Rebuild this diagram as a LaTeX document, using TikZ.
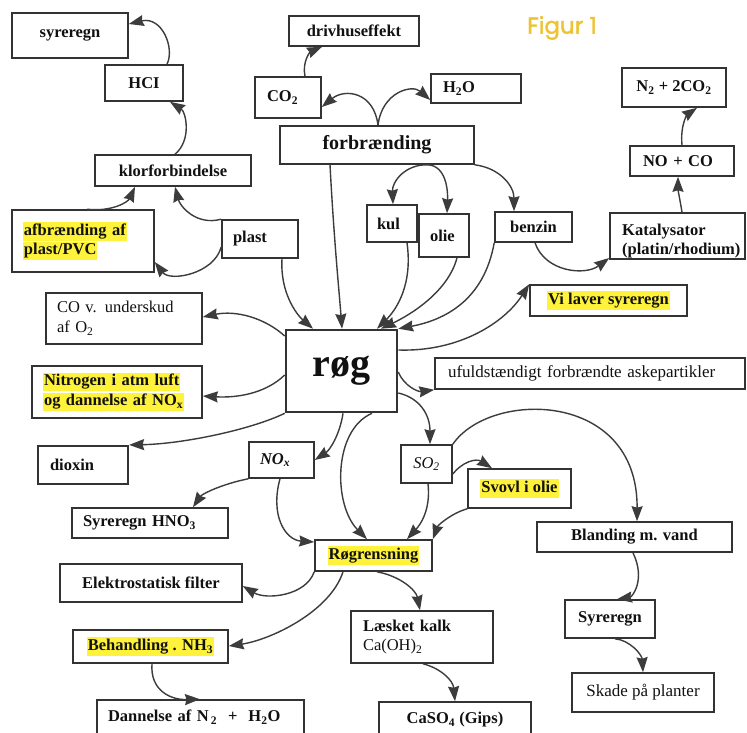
\documentclass[tikz,border=0pt]{standalone}
\usepackage{fontspec}
\setmainfont{Liberation Serif}
\newfontfamily\figfont[BoldFont=Poppins, BoldFeatures={FakeBold=1.6}]{Poppins}
\usetikzlibrary{arrows.meta}
\definecolor{boxc}{HTML}{333333}
\definecolor{arrc}{HTML}{3C3C3C}
\definecolor{hly}{HTML}{FFF23A}
\definecolor{figc}{HTML}{EEC332}
\definecolor{txtc}{HTML}{111111}
\newcommand\hlt[1]{{\setlength{\fboxsep}{1pt}\colorbox{hly}{\rule[-.26em]{0pt}{1em}#1}}}
\tikzset{
  box/.style={draw=boxc, line width=1.6pt, fill=white, inner sep=0pt, text=txtc,
    font=\bfseries\fontsize{16.5}{19.5}\selectfont},
  txt/.style={inner sep=0pt, text=txtc, font=\bfseries\fontsize{16.5}{19}\selectfont},
  conn/.style={draw=arrc, line width=1.4pt, -{Stealth[length=15pt,width=11pt,inset=1.5pt]}}
}
\begin{document}
\begin{tikzpicture}[x=1pt,y=-1pt]
\fill[white] (0,0) rectangle (747,732);
\useasboundingbox (0,0) rectangle (747,732);

% boxes
\node[box, minimum width=116pt, minimum height=45pt] (syr) at (70,35.5) {syreregn};
\node[box, minimum width=78pt, minimum height=36pt] (hcl) at (144,83) {HCI};
\node[box, minimum width=156pt, minimum height=31pt] (kl) at (173,170.5) {klorforbindelse};
\node[box, minimum width=142pt, minimum height=62pt, align=left, text width=120pt, inner xsep=11pt] (afb) at (83,241) {\hlt{afbrænding af}\\\hlt{plast/PVC}};
\node[box, minimum width=76pt, minimum height=38pt, align=left, text width=54pt, inner xsep=11pt] (pl) at (260,239) {plast};
\node[box, minimum width=130pt, minimum height=30pt] (dr) at (354,31) {drivhuseffekt};
\node[box, minimum width=66pt, minimum height=41pt, align=left, text width=42pt, inner xsep=12pt] (co2) at (288,97.5) {CO\textsubscript{2}};
\node[box, minimum width=90pt, minimum height=29pt, align=left, text width=66pt, inner xsep=12pt] (h2o) at (476,88.5) {H\textsubscript{2}O};
\node[box, minimum width=194pt, minimum height=38pt, font=\bfseries\fontsize{20}{24}\selectfont] (fb) at (377,145) {forbrænding};
\node[box, minimum width=50pt, minimum height=37pt, align=left, text width=30pt, inner xsep=10pt] (kul) at (392,223.5) {kul};
\node[box, minimum width=50pt, minimum height=43pt, align=left, text width=28pt, inner xsep=11pt] (olie) at (444,235.5) {olie};
\node[box, minimum width=77pt, minimum height=30pt] (benz) at (533.5,227) {benzin};
\node[box, minimum width=135pt, minimum height=46pt] (kat) at (677.5,236) {};
\node[txt, anchor=north west, align=left] (katt) at (622,223.5) {Katalysator\\(platin/rhodium)};
\node[box, minimum width=104pt, minimum height=30pt, align=left, text width=78pt, inner xsep=13pt] (noco) at (682,161) {NO + CO};
\node[box, minimum width=104pt, minimum height=39pt] (n2) at (674,87.5) {N\textsubscript{2} + 2CO\textsubscript{2}};
\node[box, minimum width=157pt, minimum height=31pt] (vi) at (608.5,300.5) {\hlt{Vi laver syreregn}};
\node[box, minimum width=156pt, minimum height=51pt, align=left, text width=134pt, inner xsep=11pt, font=\fontsize{16.5}{20}\selectfont] (co) at (124,318.5) {CO v. underskud\\af O\textsubscript{2}};
\node[box, minimum width=170pt, minimum height=52pt, align=left, text width=148pt, inner xsep=11pt, font=\bfseries\fontsize{16.5}{20}\selectfont] (nit) at (117,392) {\hlt{Nitrogen i atm luft}\\\hlt{og dannelse af NO\textsubscript{x}}};
\node[box, line width=2.2pt, minimum width=90pt, minimum height=38pt, align=left, text width=66pt, inner xsep=12pt] (dx) at (83,465) {dioxin};
\node[box, line width=2.6pt, minimum width=111pt, minimum height=82pt, font=\bfseries\fontsize{40}{48}\selectfont] (rog) at (341.5,371) {røg};
\node[box, minimum width=310pt, minimum height=31pt, align=left, text width=284pt, inner xsep=13pt, font=\fontsize{17}{20}\selectfont] (uf) at (590,373.5) {ufuldstændigt forbrændte askepartikler};
\node[box, minimum width=65pt, minimum height=36pt, align=left, text width=43pt, inner xsep=11pt, font=\bfseries\itshape\fontsize{16.5}{20}\selectfont] (nox) at (281.5,460) {NO\textsubscript{x}};
\node[box, minimum width=51pt, minimum height=38pt, font=\itshape\fontsize{16.5}{20}\selectfont] (so2) at (426.5,464) {SO\textsubscript{2}};
\node[box, minimum width=103pt, minimum height=39pt] (sv) at (519.5,488.5) {\hlt{Svovl i olie}};
\node[box, minimum width=117pt, minimum height=31pt] (rg) at (373.5,555.5) {\hlt{Røgrensning}};
\node[box, minimum width=195pt, minimum height=30pt] (bl) at (634.5,537) {Blanding m. vand};
\node[box, minimum width=156pt, minimum height=30pt, align=left, text width=134pt, inner xsep=11pt] (hno) at (150,523) {Syreregn HNO\textsubscript{3}};
\node[box, minimum width=182pt, minimum height=38pt] (el) at (151,583) {Elektrostatisk filter};
\node[box, minimum width=155pt, minimum height=33pt] (beh) at (150.5,646.5) {\hlt{Behandling . NH\textsubscript{3}}};
\node[box, minimum width=207pt, minimum height=34pt, align=left, text width=185pt, inner xsep=11pt] (dan) at (200.5,717) {Dannelse af N\textsubscript{\,2}\ \ +\ \ H\textsubscript{2}O};
\node[box, minimum width=142pt, minimum height=52pt, align=left, text width=118pt, inner xsep=12pt] (lk) at (422,637) {Læsket kalk\\{\mdseries Ca(OH)\textsubscript{2}}};
\node[box, minimum width=152pt, minimum height=36pt] (ca) at (455,720) {CaSO\textsubscript{4} (Gips)};
\node[box, minimum width=90pt, minimum height=38pt] (sy2) at (610,619) {Syreregn};
\node[box, minimum width=142pt, minimum height=39pt, font=\fontsize{17}{20}\selectfont] (sk) at (643,692.5) {Skade på planter};
\node[font=\figfont\bfseries\fontsize{23}{26}\selectfont, text=figc, inner sep=0pt] (fig) at (562,28) {Figur 1};

% connectors
\draw[conn] (hcl.north -| 167,0) .. controls (175,48) and (162,16) .. (syr.east |- 0,24);
\draw[conn] (kl.north -| 175,0) .. controls (192,140) and (186,112) .. (hcl.south -| 170,0);
\draw[conn] (afb.north -| 87,0) .. controls (112,212) and (128,202) .. (kl.south -| 135,0);
\draw[conn] (pl.north west) .. controls (196,226) and (180,206) .. (kl.south -| 175,0);
\draw[conn] (pl.west |- 0,247) .. controls (214,274) and (170,282) .. (afb.east |- 0,262);
\draw[conn] (co2.north -| 305,0) .. controls (302,62) and (310,52) .. (dr.south -| 322,0);
\draw[conn] (fb.north -| 378,0) .. controls (374,92) and (345,88) .. (co2.east |- 0,107);
\draw[conn] (fb.north -| 378,0) .. controls (382,92) and (412,84) .. (h2o.west |- 0,100);
\draw[conn] (fb.south -| 428,0) .. controls (405,164) and (392,182) .. (kul.north -| 393,0);
\draw[conn] (fb.south -| 428,0) .. controls (446,166) and (448,190) .. (olie.north -| 447,0);
\draw[conn] (fb.south east) .. controls (500,168) and (514,186) .. (benz.north -| 514,0);
\draw[conn] (fb.south -| 330,0) .. controls (334,240) and (339,290) .. (rog.north -| 342,0);
\draw[conn] (pl.south -| 282,0) .. controls (280,292) and (296,314) .. (rog.north -| 313,0);
\draw[conn] (kul.south -| 407,0) .. controls (413,285) and (396,310) .. (rog.north -| 377,0);
\draw[conn] (olie.south -| 457,0) .. controls (448,292) and (410,315) .. (rog.north -| 381,0);
\draw[conn] (benz.south west) .. controls (484,300) and (445,320) .. (rog.north east);
\draw[conn] (benz.south -| 535,0) .. controls (545,272) and (585,276) .. (kat.west |- 0,258);
\draw[conn] (kat.north -| 682,0) .. controls (680,200) and (678,190) .. (noco.south -| 678,0);
\draw[conn] (noco.north -| 682,0) .. controls (680,124) and (688,114) .. (n2.south -| 697,0);
\draw[conn] (rog.east |- 0,350) .. controls (460,352) and (505,322) .. (vi.north west);
\draw[conn] (rog.east |- 0,372) .. controls (404,386) and (418,392) .. (uf.south west);
\draw[conn] (rog.east |- 0,393) .. controls (420,398) and (430,415) .. (so2.north -| 430,0);
\draw[conn] (rog.south -| 343,0) .. controls (340,434) and (330,450) .. (nox.east |- 0,460);
\draw[conn] (rog.south -| 372,0) .. controls (333,430) and (333,505) .. (rg.north -| 367,0);
\draw[conn] (so2.south -| 428,0) .. controls (431,510) and (420,525) .. (rg.north -| 407,0);
\draw[conn] (nox.south -| 280,0) .. controls (270,515) and (285,540) .. (rg.west |- 0,542);
\draw[conn] (sv.south west) .. controls (452,513) and (438,525) .. (rg.north east);
\draw[conn] (so2.east |- 0,474) .. controls (462,462) and (476,458) .. (sv.north -| 492,0);
\draw[conn] (so2.north east) .. controls (490,390) and (638,390) .. (bl.north -| 637,0);
\draw[conn] (nox.south west) .. controls (222,484) and (202,494) .. (hno.north -| 193,0);
\draw[conn] (rog.west |- 0,336) .. controls (265,318) and (236,310) .. (co.east |- 0,317);
\draw[conn] (rog.west |- 0,375) .. controls (265,394) and (236,398) .. (nit.east |- 0,396);
\draw[conn] (rog.south west) .. controls (250,430) and (182,444) .. (dx.north east);
\draw[conn] (rg.south west) .. controls (306,596) and (266,600) .. (el.east |- 0,586);
\draw[conn] (rg.south -| 343,0) .. controls (330,612) and (270,640) .. (beh.east |- 0,646);
\draw[conn] (beh.south -| 152,0) .. controls (150,690) and (170,700) .. (dan.north -| 200,0);
\draw[conn] (rg.south -| 377,0) .. controls (400,576) and (416,590) .. (lk.north -| 420,0);
\draw[conn] (lk.south -| 423,0) .. controls (440,668) and (453,680) .. (ca.north -| 455,0);
\draw[conn] (bl.south -| 633,0) .. controls (646,580) and (632,597) .. (sy2.north -| 617,0);
\draw[conn] (sy2.south -| 615,0) .. controls (630,640) and (642,655) .. (sk.north -| 643,0);
\end{tikzpicture}
\end{document}
